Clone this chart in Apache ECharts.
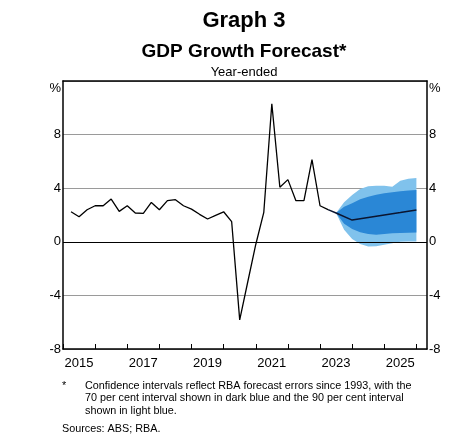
<!DOCTYPE html>
<html>
<head>
<meta charset="utf-8">
<script src="https://cdn.jsdelivr.net/npm/echarts@6/dist/echarts.min.js"></script>
<style>
  html, body { margin: 0; padding: 0; background: #fff; }
  #chart { width: 468px; height: 445px; }
</style>
</head>
<body>
<div id="chart"></div>
<script>
// ---- Data (year-ended GDP growth, %) ----
const actualDates = [2015.25, 2015.5, 2015.75, 2016.0, 2016.25, 2016.5, 2016.75, 2017.0,
  2017.25, 2017.5, 2017.75, 2018.0, 2018.25, 2018.5, 2018.75, 2019.0,
  2019.25, 2019.5, 2019.75, 2020.0, 2020.25, 2020.5, 2020.75, 2021.0,
  2021.25, 2021.5, 2021.75, 2022.0, 2022.25, 2022.5, 2022.75, 2023.0, 2023.25];
const actualGrowth = [2.24, 1.87, 2.39, 2.69, 2.69, 3.19, 2.27, 2.69,
  2.15, 2.12, 2.94, 2.39, 3.07, 3.14, 2.69, 2.44,
  2.05, 1.70, 1.97, 2.24, 1.50, -5.83, -3.0, -0.2,
  2.2, 10.3, 4.07, 4.64, 3.07, 3.07, 6.13, 2.69, 2.4];

const forecastDates = [2023.25, 2023.5, 2024.0, 2024.5, 2025.0, 2025.5, 2026.0];
const forecastGrowth = [2.4, 2.15, 1.62, 1.81, 2.0, 2.18, 2.37];

const bandDates  = [2023.5, 2023.75, 2024.0, 2024.25, 2024.5, 2024.75, 2025.0, 2025.25, 2025.5, 2025.75, 2026.0];
const band90High = [2.15, 2.95, 3.5, 3.94, 4.14, 4.19, 4.19, 4.11, 4.55, 4.71, 4.76];
const band70High = [2.15, 2.62, 2.87, 3.17, 3.37, 3.52, 3.62, 3.69, 3.77, 3.82, 3.86];
const band70Low  = [2.15, 1.35, 0.95, 0.72, 0.58, 0.53, 0.58, 0.63, 0.65, 0.68, 0.70];
const band90Low  = [2.15, 0.9, 0.2, -0.17, -0.35, -0.33, -0.22, -0.1, 0.0, 0.02, 0.02];

const yearLabels = ['2015', '2017', '2019', '2021', '2023', '2025'];
const yTickLabels = ['-8', '-4', '0', '4', '8'];

// ---- Chart ----
const FONT = 'Liberation Sans, Arial, Helvetica, sans-serif';
const chart = echarts.init(document.getElementById('chart'), null, { renderer: 'canvas' });

function bandRenderer(lo, hi, color) {
  return function (params, api) {
    const pts = [];
    for (let i = 0; i < bandDates.length; i++) pts.push(api.coord([bandDates[i], hi[i]]));
    for (let i = bandDates.length - 1; i >= 0; i--) pts.push(api.coord([bandDates[i], lo[i]]));
    return { type: 'polygon', shape: { points: pts }, style: { fill: color } };
  };
}

function yLabel(v) {
  if (v === 12) return '{p|%}';
  const s = String(v);
  return yTickLabels.indexOf(s) >= 0 ? s : '';
}

const yAxisCommon = {
  type: 'value', min: -8, max: 12, interval: 4,
  axisLine: { show: true, lineStyle: { color: '#000', width: 1.5 } },
  axisTick: { show: false },
  axisLabel: {
    formatter: yLabel, color: '#000', fontSize: 13, fontFamily: FONT, margin: 2,
    rich: { p: { fontSize: 13, fontFamily: FONT, color: '#000', padding: [14, 0, 0, 0] } }
  }
};

const option = {
  animation: false,
  backgroundColor: '#fff',
  grid: { left: 63, right: 41, top: 81, bottom: 96, outerBoundsMode: 'none' },
  xAxis: [{
    type: 'value', min: 2015, max: 2026.33, interval: 1,
    axisLine: { show: true, onZero: false, lineStyle: { color: '#000', width: 1.5 } },
    axisTick: { show: true, inside: true, length: 5, lineStyle: { color: '#000', width: 1 } },
    splitLine: { show: false },
    axisLabel: {
      showMinLabel: true, showMaxLabel: false, margin: 8,
      formatter: function (v) {
        const s = String(v);
        return yearLabels.indexOf(s) >= 0 ? '{y|' + s + '}' : '';
      },
      rich: { y: { fontSize: 13, fontFamily: FONT, color: '#000', padding: [0, 0, 0, 32] } }
    }
  }, {
    type: 'value', position: 'top', min: 2015, max: 2026.33,
    axisLine: { show: true, onZero: false, lineStyle: { color: '#000', width: 1.5 } },
    axisTick: { show: false }, axisLabel: { show: false }, splitLine: { show: false }
  }],
  yAxis: [
    Object.assign({}, yAxisCommon, {
      position: 'left',
      splitLine: { show: true, lineStyle: { color: '#9a9a9a', width: 1 } }
    }),
    Object.assign({}, yAxisCommon, {
      position: 'right',
      splitLine: { show: false }
    })
  ],
  series: [
    {
      type: 'custom', name: '90%', data: [[bandDates[0], band90Low[0]]],
      renderItem: bandRenderer(band90Low, band90High, '#80c2ec'), z: 2, silent: true
    },
    {
      type: 'custom', name: '70%', data: [[bandDates[0], band70Low[0]]],
      renderItem: bandRenderer(band70Low, band70High, '#2a87d6'), z: 3, silent: true
    },
    {
      type: 'line', name: 'Actual',
      data: actualDates.map((d, i) => [d, actualGrowth[i]]),
      showSymbol: false, lineStyle: { color: '#000', width: 1.3 }, z: 5,
      markLine: {
        silent: true, symbol: 'none', label: { show: false },
        lineStyle: { color: '#000', width: 1.2, type: 'solid' },
        data: [{ yAxis: 0 }]
      }
    },
    {
      type: 'line', name: 'Forecast',
      data: forecastDates.map((d, i) => [d, forecastGrowth[i]]),
      showSymbol: false, lineStyle: { color: '#0b1530', width: 1.5 }, z: 5
    }
  ],
  graphic: [
    { type: 'text', x: 244, y: 21, style: { text: 'Graph 3', align: 'center', verticalAlign: 'middle', fontSize: 22, fontWeight: 'bold', fontFamily: FONT, fill: '#000' } },
    { type: 'text', x: 244, y: 52, style: { text: 'GDP Growth Forecast*', align: 'center', verticalAlign: 'middle', fontSize: 19, fontWeight: 'bold', fontFamily: FONT, fill: '#000' } },
    { type: 'text', x: 244, y: 72.5, style: { text: 'Year-ended', align: 'center', verticalAlign: 'middle', fontSize: 13, fontFamily: FONT, fill: '#000' } },
    { type: 'text', x: 62, y: 386, style: { text: '*', align: 'left', verticalAlign: 'middle', fontSize: 10.8, fontFamily: FONT, fill: '#000' } },
    { type: 'text', x: 85, y: 386, style: { text: 'Confidence intervals reflect RBA forecast errors since 1993, with the', align: 'left', verticalAlign: 'middle', fontSize: 10.8, fontFamily: FONT, fill: '#000' } },
    { type: 'text', x: 85, y: 398.5, style: { text: '70 per cent interval shown in dark blue and the 90 per cent interval', align: 'left', verticalAlign: 'middle', fontSize: 10.8, fontFamily: FONT, fill: '#000' } },
    { type: 'text', x: 85, y: 411.5, style: { text: 'shown in light blue.', align: 'left', verticalAlign: 'middle', fontSize: 10.8, fontFamily: FONT, fill: '#000' } },
    { type: 'text', x: 62, y: 429.5, style: { text: 'Sources: ABS; RBA.', align: 'left', verticalAlign: 'middle', fontSize: 10.8, fontFamily: FONT, fill: '#000' } }
  ]
};

chart.setOption(option);
</script>
</body>
</html>
